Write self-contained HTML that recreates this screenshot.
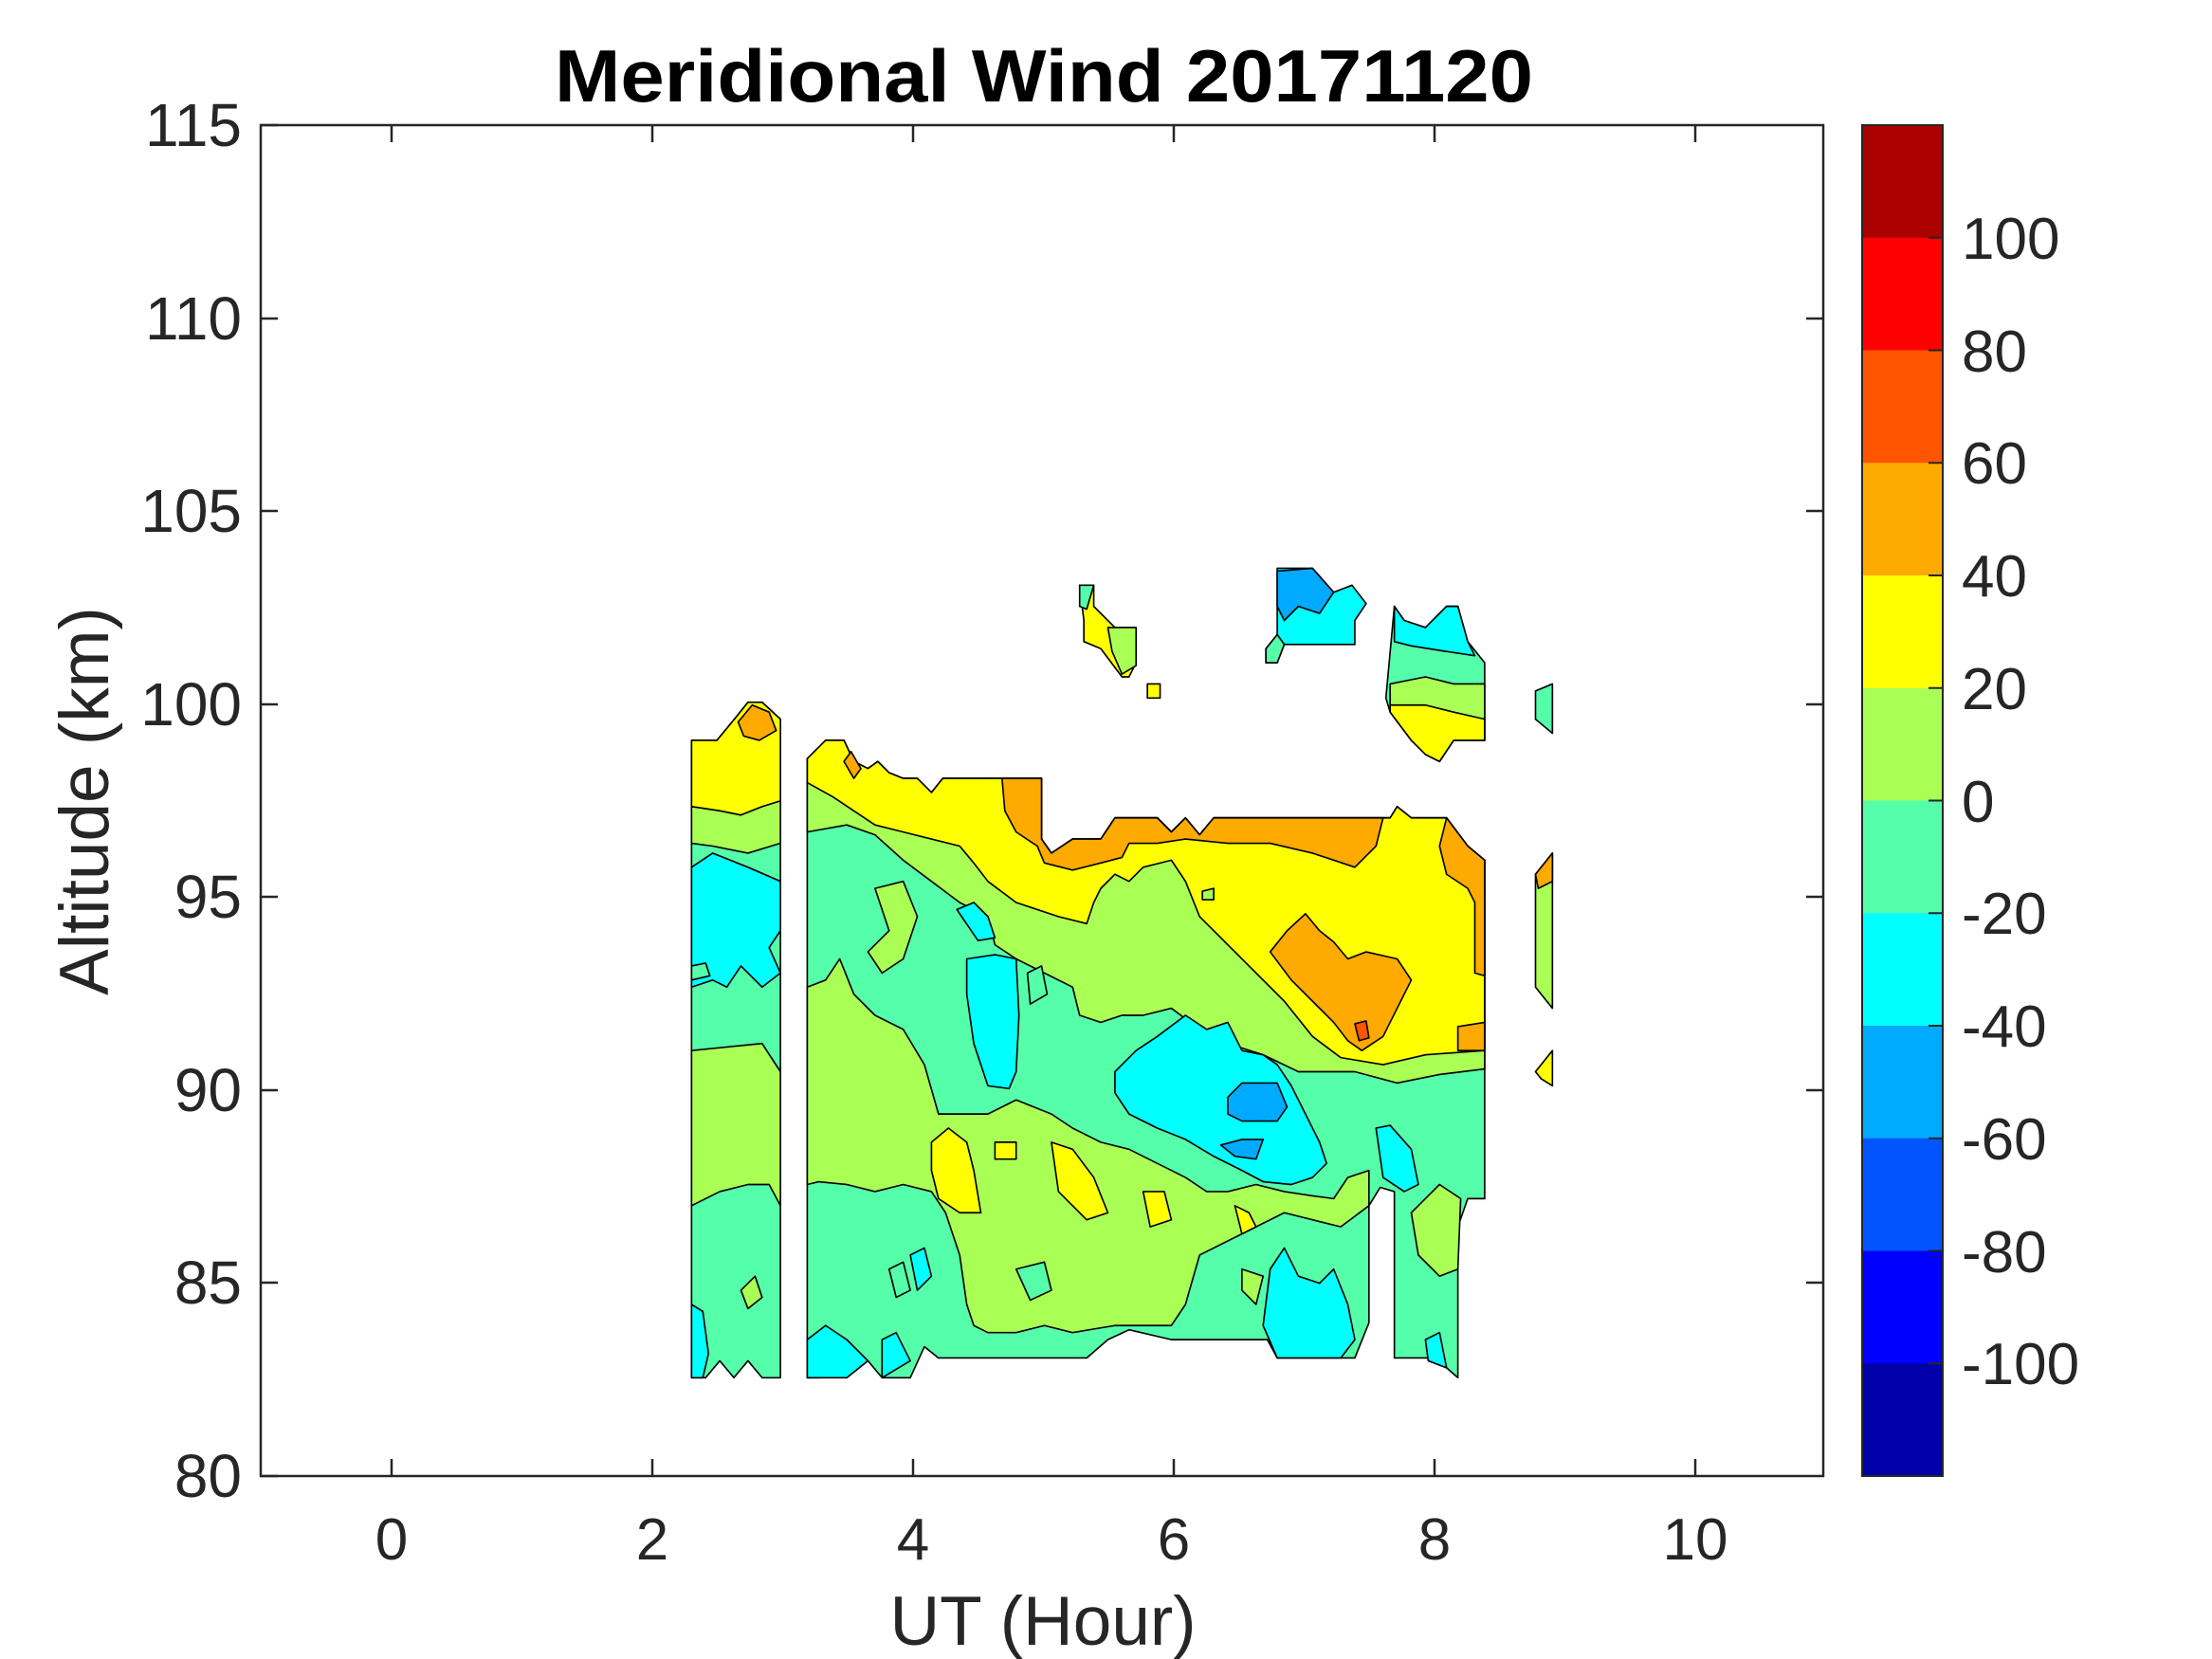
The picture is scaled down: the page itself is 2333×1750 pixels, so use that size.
<!DOCTYPE html>
<html><head><meta charset="utf-8"><style>html,body{margin:0;padding:0;background:#fff}svg{display:block}</style></head>
<body>
<svg width="2333" height="1750" viewBox="0 0 2333 1750" xmlns="http://www.w3.org/2000/svg" font-family="Liberation Sans, sans-serif">
<rect width="2333" height="1750" fill="#fff"/>
<g transform="scale(1.4885,1.4875)" stroke="#000" stroke-width="1.1" stroke-linejoin="round">
<polygon fill="#55FFAA" points="490,525 508,525 522,508 530,498 540,498 553,510 553,977 540,977 530,965 520,977 510,965 500,977 490,977"/>
<polygon fill="#FFFF00" points="490,525 508,525 522,508 530,498 540,498 553,510 553,568 540,572 525,578 510,575 490,572"/>
<polygon fill="#FFAA00" points="523,512 533,500 545,505 550,518 538,525 527,522"/>
<polygon fill="#AAFF55" points="490,572 510,575 525,578 540,572 553,568 553,598 530,605 505,600 490,598"/>
<polygon fill="#00FFFF" points="490,615 505,605 530,615 553,625 553,660 545,672 553,690 540,700 525,685 515,700 505,695 490,700"/>
<polygon fill="#55FFAA" points="490,685 500,683 503,692 490,695"/>
<polygon fill="#AAFF55" points="490,745 520,742 540,740 553,760 553,855 545,840 530,840 510,845 490,855"/>
<polygon fill="#00FFFF" points="490,925 498,930 502,960 498,977 490,977"/>
<polygon fill="#AAFF55" points="525,915 535,905 540,920 530,928"/>
<polygon fill="#55FFAA" points="572,538 585,525 598,525 605,540 615,545 622,540 630,548 640,552 650,552 660,562 668,552 738,552 738,595 745,605 760,595 780,595 790,580 820,580 830,590 840,580 850,592 860,580 985,580 990,572 1000,580 1025,580 1040,600 1052,610 1052,850 1040,850 1033,870 1033,977 1025,970 1015,963 988,963 988,845 978,842 970,855 970,938 960,963 905,963 898,950 830,950 800,943 785,950 770,963 665,963 655,955 645,977 625,977 615,965 600,977 590,970 580,977 572,977"/>
<polygon fill="#AAFF55" points="572,538 585,525 598,525 605,540 615,545 622,540 630,548 640,552 650,552 660,562 668,552 738,552 738,595 745,605 760,595 780,595 790,580 820,580 830,590 840,580 850,592 860,580 985,580 990,572 1000,580 1025,580 1040,600 1052,610 1052,758 1020,762 990,768 960,760 920,760 895,748 870,740 850,730 830,715 810,720 795,720 780,725 765,720 760,700 740,690 720,680 705,670 700,650 680,640 660,625 640,610 620,592 600,585 572,590"/>
<polygon fill="#FFFF00" points="572,538 585,525 598,525 605,540 615,545 622,540 630,548 640,552 650,552 660,562 668,552 738,552 738,595 745,605 760,595 780,595 790,580 820,580 830,590 840,580 850,592 860,580 985,580 990,572 1000,580 1025,580 1040,600 1052,610 1052,745 1010,748 980,755 950,750 930,735 910,710 890,690 870,670 850,650 840,625 830,610 810,615 800,625 790,620 780,630 775,640 770,655 750,650 735,645 720,640 700,625 690,612 680,600 660,595 640,590 620,585 605,575 590,565 572,555"/>
<polygon fill="#FFAA00" points="710,552 738,552 738,595 745,605 760,595 780,595 790,580 820,580 830,590 840,580 850,592 860,580 980,580 975,600 960,615 930,605 900,598 870,598 840,595 820,598 800,598 795,608 780,612 760,617 740,612 735,600 720,590 712,575"/>
<polygon fill="#FFAA00" points="1025,580 1040,600 1052,610 1052,692 1045,690 1045,640 1040,630 1025,620 1020,600"/>
<polygon fill="#FFAA00" points="598,540 603,533 610,545 605,552"/>
<polygon fill="#FFAA00" points="900,675 912,660 925,648 935,660 945,668 955,680 968,675 990,680 1000,695 990,715 980,735 965,745 955,738 945,725 930,710 915,695"/>
<polygon fill="#FF5500" points="960,726 968,724 970,736 963,738"/>
<polygon fill="#FFAA00" points="1033,728 1052,725 1052,745 1033,745"/>
<polygon fill="#AAFF55" points="852,632 860,630 860,638 852,638"/>
<polygon fill="#AAFF55" points="572,700 585,695 595,680 605,705 620,720 640,730 655,755 665,790 680,790 700,790 720,780 745,790 760,800 780,810 800,815 820,825 840,835 855,845 870,845 890,840 910,845 930,848 945,850 955,835 970,830 970,855 950,870 910,860 890,870 870,880 850,890 840,925 830,940 790,940 760,945 740,940 720,945 700,945 690,940 685,925 680,890 670,860 660,845 640,840 620,845 600,840 580,838 572,840"/>
<polygon fill="#AAFF55" points="620,630 640,625 650,650 640,680 625,690 615,675 630,660"/>
<polygon fill="#AAFF55" points="1000,860 1020,840 1035,850 1033,900 1020,905 1005,890"/>
<polygon fill="#AAFF55" points="880,900 895,905 890,925 880,915"/>
<polygon fill="#55FFAA" points="720,900 740,895 745,915 730,922"/>
<polygon fill="#55FFAA" points="630,900 640,895 645,915 635,920"/>
<polygon fill="#55FFAA" points="728,690 738,685 742,705 730,712"/>
<polygon fill="#00FFFF" points="790,760 805,745 820,735 840,720 855,730 870,725 880,745 895,748 905,755 915,770 925,790 935,810 940,825 930,835 915,840 895,838 880,830 860,820 840,808 820,800 800,790 790,775"/>
<polygon fill="#00AAFF" points="870,778 880,768 905,768 912,785 905,795 880,795 870,790"/>
<polygon fill="#00AAFF" points="865,812 880,808 895,808 890,822 875,820"/>
<polygon fill="#00FFFF" points="685,680 705,677 720,680 722,720 720,760 715,772 700,770 690,740 685,705"/>
<polygon fill="#00FFFF" points="678,645 690,640 700,650 705,665 693,667"/>
<polygon fill="#00FFFF" points="975,800 985,798 1000,815 1005,840 995,845 980,835"/>
<polygon fill="#00FFFF" points="900,900 910,885 920,905 935,910 945,900 955,925 960,950 950,963 905,963 895,940"/>
<polygon fill="#00FFFF" points="572,950 585,940 600,950 615,965 600,977 572,977"/>
<polygon fill="#00FFFF" points="625,950 635,945 645,965 625,977"/>
<polygon fill="#00FFFF" points="645,890 655,885 660,905 650,915"/>
<polygon fill="#00FFFF" points="1010,950 1020,945 1025,970 1012,965"/>
<polygon fill="#FFFF00" points="660,810 672,800 685,810 690,830 695,860 680,860 665,850 660,830"/>
<polygon fill="#FFFF00" points="745,810 760,815 775,835 785,860 770,865 750,845"/>
<polygon fill="#FFFF00" points="810,845 825,845 830,865 815,870"/>
<polygon fill="#FFFF00" points="875,855 885,860 890,870 880,875"/>
<polygon fill="#FFFF00" points="705,810 720,810 720,822 705,822"/>
<polygon fill="#55FFAA" points="1088,490 1100,485 1100,520 1088,510"/>
<polygon fill="#AAFF55" points="1088,620 1100,605 1100,715 1088,700"/>
<polygon fill="#FFAA00" points="1088,620 1100,605 1100,625 1090,630"/>
<polygon fill="#FFFF00" points="1088,760 1100,745 1100,770 1092,765"/>
<polygon fill="#FFFF00" points="765,415 775,415 775,430 790,445 805,445 805,470 800,480 795,480 780,460 768,455 768,440"/>
<polygon fill="#AAFF55" points="785,445 805,445 805,472 795,478 788,462"/>
<polygon fill="#55FFAA" points="765,415 775,415 770,432 765,430"/>
<polygon fill="#FFFF00" points="813,485 822,485 822,495 813,495"/>
<polygon fill="#00FFFF" points="905,403 930,403 945,420 958,415 968,428 960,440 960,457 910,457 905,470 897,470 897,460 905,450"/>
<polygon fill="#00AAFF" points="905,405 930,403 945,420 935,435 920,430 910,440 905,430"/>
<polygon fill="#55FFAA" points="897,460 905,450 910,457 905,470 897,470"/>
<polygon fill="#55FFAA" points="988,430 995,440 1010,445 1025,430 1033,430 1040,455 1052,470 1052,525 1030,525 1020,540 1010,535 1000,525 985,505 982,495"/>
<polygon fill="#00FFFF" points="988,430 995,440 1010,445 1025,430 1033,430 1040,455 1045,465 1025,462 1000,458 988,455"/>
<polygon fill="#AAFF55" points="985,485 1010,480 1030,485 1052,485 1052,525 1030,525 1020,540 1010,535 1000,525 985,505"/>
<polygon fill="#FFFF00" points="985,500 1010,500 1030,505 1052,510 1052,525 1030,525 1020,540 1010,535 1000,525 985,505"/>
</g>
<g stroke="#262626" stroke-width="2.5" fill="none">
<rect x="275" y="132" width="1648" height="1425"/>
<path d="M413,1557v-18M688,1557v-18M963,1557v-18M1238,1557v-18M1513,1557v-18M1788,1557v-18M413,132v18M688,132v18M963,132v18M1238,132v18M1513,132v18M1788,132v18M275,1557h18M275,1353h18M275,1150h18M275,946h18M275,743h18M275,539h18M275,336h18M275,132h18M1923,1353h-18M1923,1150h-18M1923,946h-18M1923,743h-18M1923,539h-18M1923,336h-18"/>
</g>
<g font-size="62" fill="#262626" text-anchor="middle">
<text x="413" y="1645">0</text><text x="688" y="1645">2</text><text x="963" y="1645">4</text><text x="1238" y="1645">6</text><text x="1513" y="1645">8</text><text x="1788" y="1645">10</text>
</g>
<g font-size="64" fill="#262626" text-anchor="end">
<text x="255" y="1579">80</text><text x="255" y="1375">85</text><text x="255" y="1172">90</text><text x="255" y="968">95</text><text x="255" y="765">100</text><text x="255" y="561">105</text><text x="255" y="358">110</text><text x="255" y="154">115</text>
</g>
<text x="1100" y="1735" font-size="73" fill="#262626" text-anchor="middle">UT (Hour)</text>
<text transform="translate(114,845) rotate(-90)" font-size="73" fill="#262626" text-anchor="middle">Altitude (km)</text>
<text x="1101" y="107" font-size="78" font-weight="bold" fill="#000" text-anchor="middle" textLength="1032" lengthAdjust="spacingAndGlyphs">Meridional Wind 20171120</text>
<g>
<rect x="1964" y="132" width="85" height="119" fill="#AA0000"/>
<rect x="1964" y="250.75" width="85" height="119" fill="#FF0000"/>
<rect x="1964" y="369.5" width="85" height="119" fill="#FF5500"/>
<rect x="1964" y="488.25" width="85" height="119" fill="#FFAA00"/>
<rect x="1964" y="607" width="85" height="119" fill="#FFFF00"/>
<rect x="1964" y="725.75" width="85" height="119" fill="#AAFF55"/>
<rect x="1964" y="844.5" width="85" height="119" fill="#55FFAA"/>
<rect x="1964" y="963.25" width="85" height="119" fill="#00FFFF"/>
<rect x="1964" y="1082" width="85" height="119" fill="#00AAFF"/>
<rect x="1964" y="1200.75" width="85" height="119" fill="#0055FF"/>
<rect x="1964" y="1319.5" width="85" height="119" fill="#0000FF"/>
<rect x="1964" y="1438.25" width="85" height="118.75" fill="#0000AA"/>
<rect x="1964" y="132" width="85" height="1425" fill="none" stroke="#262626" stroke-width="2"/>
<path d="M2049,250.75h-15M2049,369.5h-15M2049,488.25h-15M2049,607h-15M2049,725.75h-15M2049,844.5h-15M2049,963.25h-15M2049,1082h-15M2049,1200.75h-15M2049,1319.5h-15M2049,1438.25h-15" stroke="#262626" stroke-width="2"/>
</g>
<g font-size="62" fill="#262626">
<text x="2069" y="273">100</text><text x="2069" y="392">80</text><text x="2069" y="510">60</text><text x="2069" y="629">40</text><text x="2069" y="748">20</text><text x="2069" y="867">0</text><text x="2069" y="985">-20</text><text x="2069" y="1104">-40</text><text x="2069" y="1223">-60</text><text x="2069" y="1342">-80</text><text x="2069" y="1460">-100</text>
</g>
</svg>
</body></html>
